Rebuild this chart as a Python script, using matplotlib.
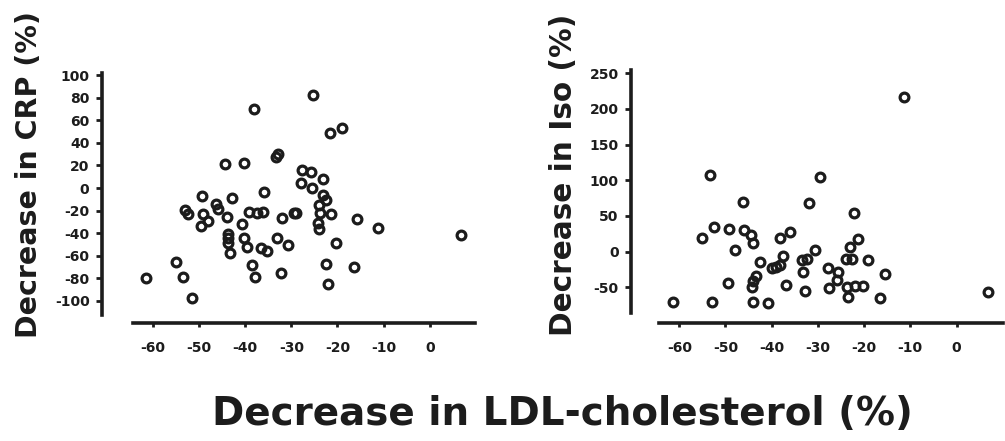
import matplotlib
matplotlib.use("Agg")
import matplotlib.pyplot as plt

# ---- data ----
crp_ldl = [-61.5, -55.0, -53.5, -51.4, -52.9, -52.3, -49.4, -49.1, -49.5, -48.0,
           -46.2, -45.8, -44.0, -44.4, -42.8, -43.8, -43.7, -43.6, -43.3, -40.3,
           -40.6, -40.2, -39.5, -39.1, -38.6, -37.9, -38.1, -37.5, -36.1, -35.9,
           -36.6, -35.3, -33.3, -32.8, -33.2, -32.1, -30.7, -32.2, -29.4, -28.9,
           -27.6, -25.8, -28.0, -25.6, -25.4, -23.2, -23.1, -22.4, -24.0, -23.8,
           -24.2, -24.0, -21.4, -21.6, -19.1, -20.3, -22.5, -22.0, -15.7, -16.4,
           -11.3, 6.7]
crp_dec = [-79.9, -65.8, -78.5, -97.6, -19.5, -23.0, -7.1, -23.0, -33.3, -29.2,
           -14.2, -18.6, -25.4, 20.9, -8.6, -40.7, -44.5, -48.4, -57.8, 22.4,
           -32.2, -44.5, -51.9, -20.9, -68.1, -78.5, 69.6, -22.4, -20.9, -3.2,
           -53.4, -55.5, 27.7, 30.1, -44.0, -26.8, -50.4, -75.5, -21.8, -22.4,
           15.9, 14.5, 4.7, -0.3, 82.6, 8.0, -6.2, -10.6, -15.0, -22.4,
           -31.3, -36.6, -23.0, 49.0, 53.4, -48.4, -67.3, -85.0, -27.7, -70.2,
           -35.7, -41.6]

iso_ldl = [-61.4, -55.0, -53.4, -52.5, -52.9, -49.3, -48.0, -49.5, -46.2, -46.0,
           -44.5, -44.0, -42.55, -43.4, -44.0, -44.2, -44.0, -40.7, -40.0, -39.1,
           -38.2, -37.5, -38.1, -36.1, -36.8, -33.5, -32.3, -33.2, -32.8, -32.0,
           -30.7, -29.5, -27.8, -27.6, -25.6, -25.9, -23.8, -23.5, -23.1, -24.0,
           -22.6, -22.2, -21.3, -22.0, -20.2, -19.2, -16.5, -15.4, -11.3, 6.8]
iso_dec = [-70.0, 18.7, 107.3, 35.0, -70.9, 31.3, 2.3, -44.3, 69.1, 30.3,
           23.3, 11.7, -14.9, -34.1, -40.6, -49.0, -70.0, -72.3, -23.3, -21.9,
           -18.7, -6.1, 18.7, 28.0, -46.7, -11.7, -10.7, -28.9, -54.6, 68.1,
           2.8, 104.1, -22.4, -50.4, -28.5, -39.7, -49.0, -63.0, 6.5, -10.7,
           -10.7, 53.7, 17.3, -47.6, -47.6, -11.7, -64.4, -31.7, 216.5, -56.9]

x_ticks = [-60, -50, -40, -30, -20, -10, 0]
crp_ticks = [-100, -80, -60, -40, -20, 0, 20, 40, 60, 80, 100]
iso_ticks = [-50, 0, 50, 100, 150, 200, 250]

xlabel = "Decrease in LDL-cholesterol (%)"
crp_label = "Decrease in CRP (%)"
iso_label = "Decrease in Iso (%)"

# ---- figure ----
W, H = 1005, 441
INK = "#1c1c1c"
plt.rcParams["font.family"] = ["DejaVu Sans"]
plt.rcParams["font.weight"] = "bold"
fig = plt.figure(figsize=(W / 100, H / 100), dpi=100)


def make_axes(l, r, t, b):
    return fig.add_axes([l / W, 1 - b / H, (r - l) / W, (b - t) / H])


def style(ax, xlim, ylim, xspine, yspine, yticks):
    ax.set_xlim(*xlim)
    ax.set_ylim(*ylim)
    for s in ("top", "right"):
        ax.spines[s].set_visible(False)
    for s in ("left", "bottom"):
        ax.spines[s].set_linewidth(2.6)
        ax.spines[s].set_color(INK)
    ax.spines["bottom"].set_bounds(*xspine)
    ax.spines["left"].set_bounds(*yspine)
    ax.set_xticks(x_ticks)
    ax.set_xticklabels([str(v) for v in x_ticks])
    ax.set_yticks(yticks)
    ax.set_yticklabels([str(v) for v in yticks])
    ax.tick_params(axis="x", direction="out", length=3, width=2, color=INK,
                   pad=10, labelsize=10, labelcolor=INK)
    ax.tick_params(axis="y", direction="out", length=4, width=2, color=INK,
                   pad=5, labelsize=10, labelcolor=INK)
    for lab in ax.get_xticklabels() + ax.get_yticklabels():
        lab.set_fontweight("bold")
    ax.patch.set_visible(False)


MS, MEW = 6.3, 2.3

# left panel (CRP)
ax1 = make_axes(102, 475, 73, 323)
ax1.plot(crp_ldl, crp_dec, linestyle="none", marker="o", ms=MS, mew=MEW,
         mfc="none", mec=INK, clip_on=False)
style(ax1, (-70.97, 9.76), (-119.5, 101.8), (-64.3, 9.76), (-112.4, 101.8),
      crp_ticks)

# right panel (Iso)
ax2 = make_axes(631, 1003, 70, 323)
ax2.plot(iso_ldl, iso_dec, linestyle="none", marker="o", ms=MS, mew=MEW,
         mfc="none", mec=INK, clip_on=False)
style(ax2, (-70.45, 10.06), (-99.9, 254.5), (-64.3, 10.06), (-85.9, 254.5),
      iso_ticks)

fig.text(29 / W, 1 - 175 / H, crp_label, rotation=90, ha="center",
         va="center", fontsize=20.5, fontweight="bold", color=INK)
fig.text(563 / W, 1 - 175 / H, iso_label, rotation=90, ha="center",
         va="center", fontsize=21.3, fontweight="bold", color=INK)
fig.text(562 / W, 1 - 414 / H, xlabel, ha="center", va="center",
         fontsize=28, fontweight="bold", color=INK)

fig.savefig("out.png", dpi=100, facecolor="white")
